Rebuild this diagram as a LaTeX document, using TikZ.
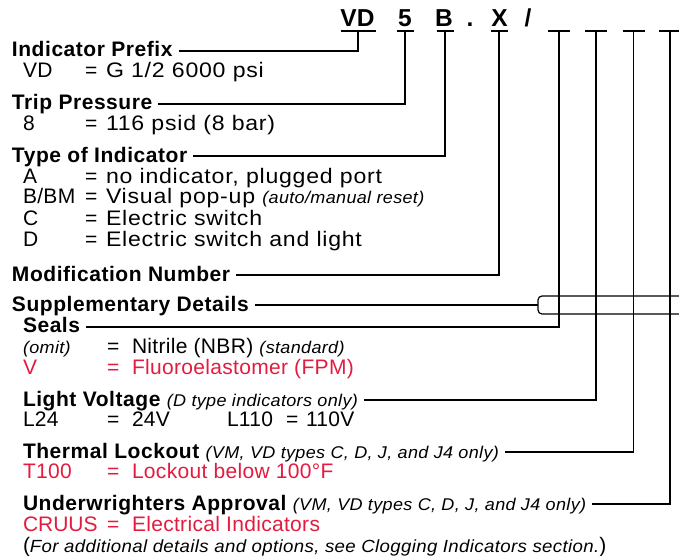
\documentclass[tikz,border=0pt]{standalone}
\usepackage{fontspec}
\setmainfont{Liberation Sans}
\newfontfamily\pkTop[FakeStretch=1.1,LetterSpace=3.6]{Liberation Sans}
\newfontfamily\pkBot[LetterSpace=1.5]{Liberation Sans}
\newfontfamily\pkHead[LetterSpace=2.6]{Liberation Sans}
\newfontfamily\pkItal[FakeStretch=1.06,LetterSpace=2]{Liberation Sans}
\definecolor{pkred}{HTML}{E31B3F}
\newcommand{\pkit}[1]{{\pkItal\fontsize{17}{17}\selectfont\mdseries\itshape #1}}
\begin{document}
\begin{tikzpicture}[x=1pt,y=-1pt,
  every node/.style={inner sep=0pt, outer sep=0pt, anchor=base west},
  hd/.style={font=\pkHead\fontsize{21}{21}\selectfont\bfseries},
  tx/.style={font=\pkTop\fontsize{21}{21}\selectfont},
  bx/.style={font=\pkBot\fontsize{21}{21}\selectfont},
  eq/.style={font=\fontsize{21}{21}\selectfont},
  code/.style={font=\fontsize{24.5}{24.5}\selectfont\bfseries, anchor=base},
  rd/.style={text=pkred},
  conn/.style={line width=1.2pt, black}]
\useasboundingbox (0,0) rectangle (679,556);

% code letters
\node[code] (cVD) at (357.5,27) {VD};
\node[code] (c5) at (405,27) {5};
\node[code] (cB) at (444,27) {B};
\node[code] (cdot) at (470,27) {.};
\node[code] (cX) at (499.5,27) {X};
\node[code] (cslash) at (528,27) {/};

% underline centres
\coordinate (uVD) at (358,31);
\coordinate (u5) at (405,31);
\coordinate (uB) at (445,31);
\coordinate (uX) at (499,31);
\coordinate (ub1) at (559,31);
\coordinate (ub2) at (596,31);
\coordinate (ub3) at (633.5,31);
\coordinate (ub4) at (670,31);
\draw[conn] ([xshift=-17.5pt]uVD) -- ([xshift=17.5pt]uVD);
\foreach \u in {u5,uB,uX}{\draw[conn] ([xshift=-8.5pt]\u) -- ([xshift=8.5pt]\u);}
\foreach \u in {ub1,ub2,ub3,ub4}{\draw[conn] ([xshift=-11pt]\u) -- ([xshift=11pt]\u);}

% left column
\node[hd] (hIP) at (12,57) {Indicator Prefix};
\node[bx] (kVD) at (23,78) {VD};
\node[eq] (eVD) at (85,78) {=};
\node[tx] (vVD) at (106,78) {G 1/2 6000 psi};

\node[hd] (hTP) at (12,110) {Trip Pressure};
\node[bx] (k8) at (23,131) {8};
\node[eq] (e8) at (85,131) {=};
\node[tx] (v8) at (106,131) {116 psid (8 bar)};

\node[hd] (hTI) at (12,162) {Type of Indicator};
\node[bx] (kA) at (23,183) {A};
\node[eq] (eA) at (85,183) {=};
\node[tx] (vA) at (106,183) {no indicator, plugged port};
\node[bx] (kB) at (23,203) {B/BM};
\node[eq] (eB) at (85,203) {=};
\node[tx] (vB) at (106,203) {Visual pop-up \pkit{(auto/manual reset)}};
\node[bx] (kC) at (23,225) {C};
\node[eq] (eC) at (85,225) {=};
\node[tx] (vC) at (106,225) {Electric switch};
\node[bx] (kD) at (23,246) {D};
\node[eq] (eD) at (85,246) {=};
\node[tx] (vD) at (106,246) {Electric switch and light};

\node[hd] (hMN) at (12,281) {Modification Number};
\node[hd] (hSD) at (12,311) {Supplementary Details};

\node[hd] (hSe) at (23,332) {Seals};
\node (kom) at (23,353) {\pkit{(omit)}};
\node[eq] (eom) at (107,353) {=};
\node[bx] (vom) at (132,353) {Nitrile (NBR) \pkit{(standard)}};
\node[bx,rd] (kV) at (23,374) {V};
\node[eq,rd] (eV) at (107,374) {=};
\node[bx,rd] (vV) at (132,374) {Fluoroelastomer (FPM)};

\node[hd] (hLV) at (23,406) {Light Voltage \pkit{(D type indicators only)}};
\node[bx] (kL24) at (23,426) {L24};
\node[eq] (eL24) at (107,426) {=};
\node[bx] (vL24) at (132,426) {24V};
\node[bx] (kL110) at (227,426) {L110};
\node[eq] (eL110) at (286,426) {=};
\node[bx] (vL110) at (306,426) {110V};

\node[hd] (hTL) at (23,458) {Thermal Lockout \pkit{(VM, VD types C, D, J, and J4 only)}};
\node[bx,rd] (kT) at (23,478) {T100};
\node[eq,rd] (eT) at (107,478) {=};
\node[bx,rd] (vT) at (132,478) {Lockout below 100°F};

\node[hd] (hUA) at (23,510) {Underwrighters Approval \pkit{(VM, VD types C, D, J, and J4 only)}};
\node[eq,rd] (kCR) at (23,531) {CRUUS};
\node[eq,rd] (eCR) at (107,531) {=};
\node[bx,rd] (vCR) at (132,531) {Electrical Indicators};
\node[bx] (note) at (23,552) {({\pkItal\fontsize{17.6}{17.6}\selectfont\itshape For additional details and options, see Clogging Indicators section.})};

% line start points
\coordinate (sIP) at ([shift={(6pt,6pt)}]hIP.base east);
\coordinate (sTP) at ([shift={(6pt,6pt)}]hTP.base east);
\coordinate (sTI) at ([shift={(6pt,6pt)}]hTI.base east);
\coordinate (sMN) at ([shift={(6pt,6pt)}]hMN.base east);
\coordinate (sSD) at ([shift={(6pt,6pt)}]hSD.base east);
\coordinate (sSe) at ([shift={(6pt,5pt)}]hSe.base east);
\coordinate (sLV) at ([shift={(6pt,6pt)}]hLV.base east);
\coordinate (sTL) at ([shift={(6pt,6pt)}]hTL.base east);
\coordinate (sUA) at ([shift={(6pt,6pt)}]hUA.base east);

\draw[conn] (sIP) -| (uVD);
\draw[conn] (sTP) -| (u5);
\draw[conn] (sTI) -| (uB);
\draw[conn] (sMN) -| (uX);
\draw[conn] (sSe) -| (ub1);
\draw[conn] (sLV) -| (ub2);
\draw[conn] (sTL) -| (ub3);
\draw[conn] (sUA) -| (ub4);

% bracket for supplementary details
\coordinate (brL) at (538,305);
\coordinate (brT) at (679,296);
\coordinate (brB) at (679,314);
\draw[conn] (sSD) -- (brL |- sSD);
\draw[conn, rounded corners=4pt] (brT) -- (brL |- brT) -- (brL |- brB) -- (brB);
\end{tikzpicture}
\end{document}
